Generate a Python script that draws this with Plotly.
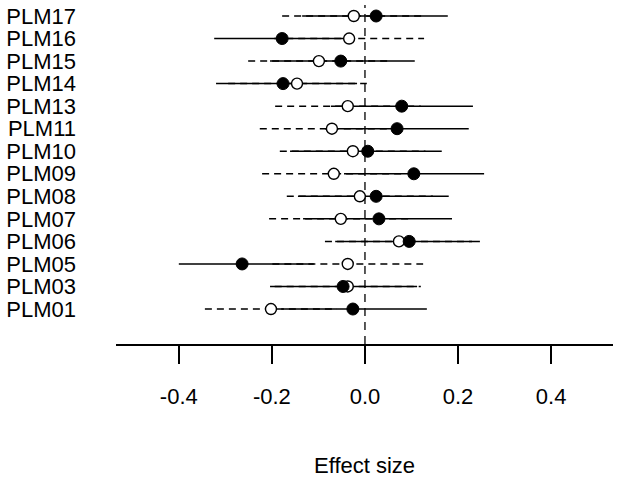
import plotly.graph_objects as go

labels = ["PLM17", "PLM16", "PLM15", "PLM14", "PLM13", "PLM11", "PLM10",
          "PLM09", "PLM08", "PLM07", "PLM06", "PLM05", "PLM03", "PLM01"]
filled_est = [0.024, -0.178, -0.052, -0.176, 0.079, 0.069, 0.006,
              0.105, 0.024, 0.030, 0.095, -0.264, -0.047, -0.026]
filled_lo = [-0.135, -0.324, -0.204, -0.320, -0.073, -0.086, -0.161,
             -0.045, -0.144, -0.133, -0.064, -0.400, -0.204, -0.180]
filled_hi = [0.178, -0.030, 0.107, -0.017, 0.232, 0.223, 0.165,
             0.256, 0.180, 0.187, 0.247, -0.110, 0.112, 0.133]
open_est = [-0.024, -0.034, -0.099, -0.146, -0.037, -0.071, -0.026,
            -0.067, -0.011, -0.052, 0.073, -0.037, -0.037, -0.202]
open_lo = [-0.178, -0.195, -0.251, -0.294, -0.193, -0.226, -0.183,
           -0.221, -0.168, -0.206, -0.086, -0.199, -0.194, -0.344]
open_hi = [0.130, 0.127, 0.053, 0.004, 0.120, 0.084, 0.130,
           0.088, 0.146, 0.100, 0.230, 0.125, 0.120, -0.060]
x_ticks = [-0.4, -0.2, 0.0, 0.2, 0.4]
x_tick_text = ["-0.4", "-0.2", "0.0", "0.2", "0.4"]

n = len(labels)
ypos = list(range(n, 0, -1))
y_lo, y_hi = -0.552, 14.488

def segs(lo, hi):
    xs, ys = [], []
    for a, b, y in zip(lo, hi, ypos):
        xs += [a, b, None]
        ys += [y, y, None]
    return xs, ys

fig = go.Figure()
dx, dy = segs(open_lo, open_hi)
fig.add_trace(go.Scatter(x=dx, y=dy, mode="lines",
                         line=dict(color="black", width=1.5, dash="7px,5px"),
                         hoverinfo="skip", showlegend=False))
sx, sy = segs(filled_lo, filled_hi)
fig.add_trace(go.Scatter(x=sx, y=sy, mode="lines",
                         line=dict(color="black", width=1.5),
                         hoverinfo="skip", showlegend=False))
# zero reference line
fig.add_trace(go.Scatter(x=[0, 0], y=[y_lo, y_hi], mode="lines",
                         line=dict(color="black", width=1.3, dash="8px,6px"),
                         hoverinfo="skip", showlegend=False))
fig.add_trace(go.Scatter(x=open_est, y=ypos, mode="markers",
                         marker=dict(symbol="circle", size=11, color="white",
                                     line=dict(color="black", width=1.4)),
                         showlegend=False))
fig.add_trace(go.Scatter(x=filled_est, y=ypos, mode="markers",
                         marker=dict(symbol="circle", size=12, color="black",
                                     line=dict(color="black", width=1)),
                         showlegend=False))

fig.add_annotation(text="Effect size", x=0.5, y=0, xref="paper", yref="paper",
                   xanchor="center", yanchor="middle", yshift=-121, showarrow=False,
                   font=dict(size=22, color="black", family="Liberation Sans, Arial, sans-serif"))

fig.update_layout(
    width=623, height=480,
    margin=dict(l=116, r=10, t=5, b=136, pad=0, autoexpand=False),
    paper_bgcolor="white", plot_bgcolor="white",
    font=dict(family="Liberation Sans, Arial, sans-serif", color="black"),
    xaxis=dict(range=[-0.535, 0.533], tickvals=x_ticks, ticktext=x_tick_text,
               showgrid=False, zeroline=False, showline=True, linecolor="black",
               linewidth=1.5, ticks="outside", ticklen=18, tickwidth=1.5,
               tickcolor="black", tickfont=dict(size=22), ticklabelstandoff=14,
               automargin=False),
    yaxis=dict(range=[y_lo, y_hi], tickvals=ypos, ticktext=labels,
               showgrid=False, zeroline=False, showline=False, ticks="",
               tickfont=dict(size=22), ticklabelstandoff=39, automargin=False),
)

fig.write_html("out.html", config={"displayModeBar": False},
               post_script="document.body.style.margin='0';document.body.style.overflow='hidden';")
